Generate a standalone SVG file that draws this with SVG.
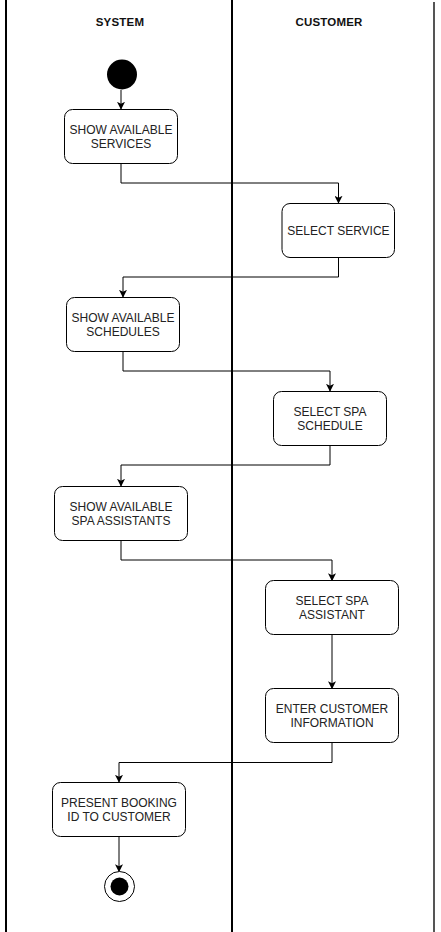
<svg xmlns="http://www.w3.org/2000/svg" width="441" height="932" viewBox="0 0 441 932">
<style>
.lane{stroke:#000;stroke-width:2;fill:none}
.node rect{fill:#fff;stroke:#000;stroke-width:1}
.node text{font-family:"Liberation Sans",Arial,sans-serif;font-size:12px;fill:#222;text-anchor:middle}
.hdr{font-family:"Liberation Sans",Arial,sans-serif;font-size:11.5px;font-weight:bold;fill:#111;text-anchor:middle;letter-spacing:0.2px}
.edge{stroke:#000;stroke-width:1;fill:none;marker-end:url(#arr)}
</style>
<defs>
<marker id="arr" viewBox="0 0 10 10" refX="9" refY="5" markerWidth="8" markerHeight="8" markerUnits="userSpaceOnUse" orient="auto">
<path d="M0,0 L10,5 L0,10 L2.5,5 z" fill="#000"/>
</marker>
</defs>
<rect width="441" height="932" fill="#fff"/>
<g id="lanes">
<line class="lane" x1="6" y1="0" x2="6" y2="932"/>
<line class="lane" x1="232" y1="0" x2="232" y2="932"/>
<line x1="434" y1="2" x2="434" y2="932" stroke="#555" stroke-width="2"/>
<text class="hdr" x="120" y="26">SYSTEM</text>
<text class="hdr" x="329" y="26">CUSTOMER</text>
</g>
<g id="connectors">
<path class="edge" d="M121,90 L121,109"/>
<path class="edge" d="M121,164 L121,183 L338.5,183 L338.5,203"/>
<path class="edge" d="M338.5,257 L338.5,277 L123,277 L123,297"/>
<path class="edge" d="M123,351 L123,371 L330,371 L330,391"/>
<path class="edge" d="M330,445 L330,465 L121,465 L121,486"/>
<path class="edge" d="M121,540 L121,560 L332,560 L332,580.5"/>
<path class="edge" d="M332,634 L332,688.5"/>
<path class="edge" d="M332,742 L332,762.5 L119,762.5 L119,782"/>
<path class="edge" d="M119,836.5 L119,871.5"/>
</g>
<g id="start"><circle cx="122" cy="74.5" r="15" fill="#000"/></g>
<g id="n1" class="node"><rect x="64.5" y="109.5" width="113" height="54" rx="8"/><text x="121" y="134">SHOW AVAILABLE</text><text x="121" y="148">SERVICES</text></g>
<g id="n2" class="node"><rect x="282" y="203.5" width="112.5" height="54" rx="8"/><text x="338.5" y="235">SELECT SERVICE</text></g>
<g id="n3" class="node"><rect x="66.5" y="297.5" width="113" height="54" rx="8"/><text x="123" y="322">SHOW AVAILABLE</text><text x="123" y="336">SCHEDULES</text></g>
<g id="n4" class="node"><rect x="273.5" y="391.5" width="113" height="54" rx="8"/><text x="330" y="416">SELECT SPA</text><text x="330" y="430">SCHEDULE</text></g>
<g id="n5" class="node"><rect x="54.5" y="486.5" width="133" height="54" rx="8"/><text x="121" y="511">SHOW AVAILABLE</text><text x="121" y="525">SPA ASSISTANTS</text></g>
<g id="n6" class="node"><rect x="265.5" y="580.5" width="133" height="54" rx="8"/><text x="332" y="605">SELECT SPA</text><text x="332" y="619">ASSISTANT</text></g>
<g id="n7" class="node"><rect x="265.5" y="688.5" width="133" height="54" rx="8"/><text x="332" y="713">ENTER CUSTOMER</text><text x="332" y="727">INFORMATION</text></g>
<g id="n8" class="node"><rect x="52.5" y="782.5" width="133" height="54" rx="8"/><text x="119" y="807">PRESENT BOOKING</text><text x="119" y="821">ID TO CUSTOMER</text></g>
<g id="end"><circle cx="119.5" cy="886.5" r="15" fill="#fff" stroke="#000" stroke-width="1"/><circle cx="119.5" cy="886.5" r="9" fill="#000"/></g>
</svg>
